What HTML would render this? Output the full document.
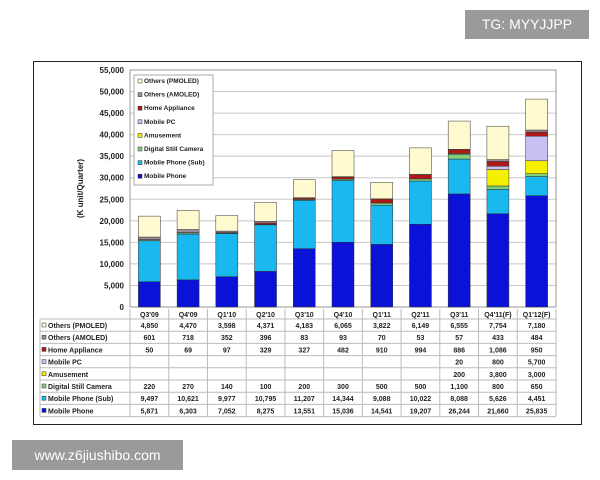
<!DOCTYPE html>
<html><head><meta charset="utf-8"><style>
body{margin:0;background:#fff;font-family:"Liberation Sans",sans-serif}
#wrap{position:relative;width:600px;height:480px;overflow:hidden;background:#fff}
</style></head><body>
<div id="wrap">
<div style="position:absolute;left:465px;top:10px;width:124px;height:29px;background:#9a9a9a;color:#fff;font-size:14px;line-height:29px;text-align:center">TG: MYYJJPP</div>
<div style="position:absolute;left:33px;top:61px;width:547px;height:362px;border:1.5px solid #222"></div>
<svg id="svg" width="600" height="480" style="position:absolute;left:0;top:0"></svg>
<div style="position:absolute;left:12px;top:440px;width:171px;height:30px;background:#9a9a9a;color:#fff;font-size:14px;line-height:30px;text-align:center">www.z6jiushibo.com</div>
</div>
<script>
const categories=["Q3'09","Q4'09","Q1'10","Q2'10","Q3'10","Q4'10","Q1'11","Q2'11","Q3'11","Q4'11(F)","Q1'12(F)"];
const seriesNames=["Mobile Phone","Mobile Phone (Sub)","Digital Still Camera","Amusement","Mobile PC","Home Appliance","Others (AMOLED)","Others (PMOLED)"];
const mobilePhone=[5871,6303,7052,8275,13551,15036,14541,19207,26244,21660,25835];
const mobilePhoneSub=[9497,10621,9977,10795,11207,14344,9088,10022,8088,5626,4451];
const dsc=[220,270,140,100,200,300,500,500,1100,800,650];
const amusement=[null,null,null,null,null,null,null,null,200,3800,3000];
const mobilePC=[null,null,null,null,null,null,null,null,20,800,5700];
const homeAppliance=[50,69,97,329,327,482,910,994,886,1086,950];
const amoled=[601,718,352,396,83,93,70,53,57,433,484];
const pmoled=[4850,4470,3598,4371,4183,6065,3822,6149,6555,7754,7180];
const yTicks=[0,5000,10000,15000,20000,25000,30000,35000,40000,45000,50000,55000];
const series=[mobilePhone,mobilePhoneSub,dsc,amusement,mobilePC,homeAppliance,amoled,pmoled];
const colors=["#0a12d8","#1ab8f0","#7fd07a","#f5f000","#c8c0f0","#b01818","#9a8a9a","#fffad0"];
const NS="http://www.w3.org/2000/svg";
const svg=document.getElementById('svg');
const PL=130,PR=556,PT=70,PB=307,YMAX=55000;
const bw=(PR-PL)/categories.length;
function y(v){return PB-(v/YMAX)*(PB-PT);}
function x(i){return PL+i*bw;}
function mk(t,a,txt){const e=document.createElementNS(NS,t);for(const k in a)e.setAttribute(k,a[k]);if(txt!==undefined)e.textContent=txt;svg.appendChild(e);return e;}
function fmt(v){return v==null?"":v.toLocaleString('en-US');}
// gridlines & y ticks
yTicks.forEach(t=>{
 const g=mk('line',{x1:PL,x2:PR,y1:y(t),y2:y(t),stroke:'#c8c8c8','stroke-width':1});
 
 
 const l=mk('text',{x:PL-6,y:y(t)+3,'text-anchor':'end','font-size':8,'font-weight':'bold',fill:'#222'},fmt(t));
 
 
});
const pb=mk('rect',{x:PL,y:PT,width:PR-PL,height:PB-PT,fill:'none',stroke:'#999'});


const yt=mk('text',{x:0,y:0,transform:`translate(83,${(PT+PB)/2}) rotate(-90)`,'text-anchor':'middle','font-size':8,'font-weight':'bold',fill:'#222'},'(K unit/Quarter)');


// bars
categories.forEach((c,i)=>{
 let acc=0;
 series.forEach((s,k)=>{
  const v=s[i]||0; if(!v) return;
  const r=mk('rect',{x:x(i)+bw/2-11,y:y(acc+v),width:22,height:y(acc)-y(acc+v),fill:colors[k],stroke:'#333','stroke-width':0.5});
  
  
  acc+=v;
 });
});
// legend
const lg=mk('rect',{x:134,y:75,width:79,height:110,fill:'#fff',stroke:'#aaa'});


for(let k=7;k>=0;k--){
 const yy=83+(7-k)*13.6;
 const sw=mk('rect',{x:138,y:yy-4,width:4,height:4,fill:colors[k],stroke:'#333','stroke-width':0.5});
 
 
 const t=mk('text',{x:144,y:yy,'font-size':6.5,'font-weight':'bold',fill:'#222'},seriesNames[k]);
 
 
}
// table
const T0=309,RH=12.2,TL=40;
categories.forEach((c,i)=>{
 const t=mk('text',{x:x(i)+bw/2,y:T0+8,'text-anchor':'middle','font-size':7,'font-weight':'bold',fill:'#222'},c);
 
 
});
const rowsTop=T0+10;
for(let r=0;r<8;r++){
 const k=7-r; const yy=rowsTop+r*RH;
 const ln=mk('line',{x1:TL,x2:PR,y1:yy,y2:yy,stroke:'#bbb'});
 
 
 const sw=mk('rect',{x:TL+2,y:yy+4,width:4,height:4,fill:colors[k],stroke:'#333','stroke-width':0.5});
 
 
 const lb=mk('text',{x:TL+8,y:yy+9,'font-size':7,'font-weight':'bold',fill:'#222'},seriesNames[k]);
 
 
 series[k].forEach((v,i)=>{
  const tv=mk('text',{x:x(i)+bw/2,y:yy+9,'text-anchor':'middle','font-size':7,'font-weight':'bold',fill:'#222'},fmt(v));
  
  
 });
}
const bl=mk('line',{x1:TL,x2:PR,y1:rowsTop+8*RH,y2:rowsTop+8*RH,stroke:'#bbb'});


for(let i=0;i<=categories.length;i++){
 const v=mk('line',{x1:x(i),x2:x(i),y1:T0,y2:rowsTop+8*RH,stroke:'#bbb'});
 
 
}
const lv=mk('line',{x1:TL,x2:TL,y1:rowsTop,y2:rowsTop+8*RH,stroke:'#bbb'});


</script>
</body></html>
